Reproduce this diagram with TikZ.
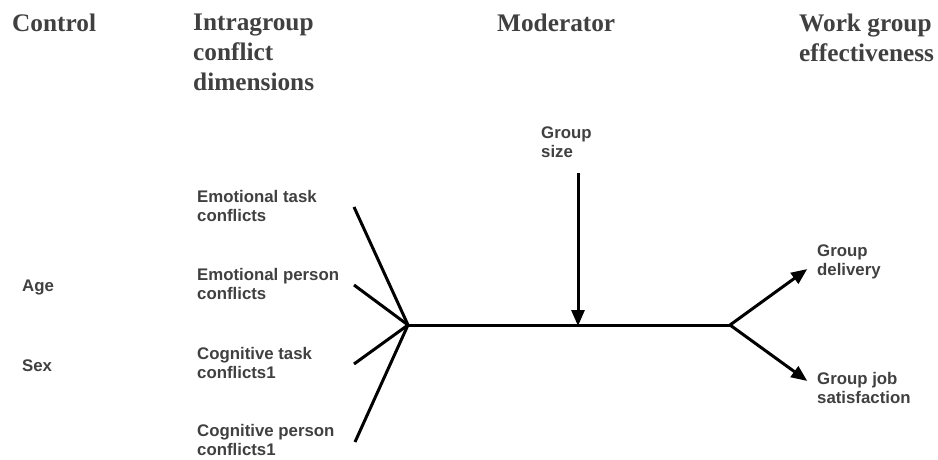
\documentclass[tikz,border=0pt]{standalone}
\usepackage{fontspec}
\setmainfont{Liberation Serif}
\setsansfont{Liberation Sans}
\usetikzlibrary{positioning, arrows.meta}
\definecolor{ink}{HTML}{404040}

\begin{document}
\begin{tikzpicture}[x=1pt, y=-1pt,
    every node/.style={inner sep=0pt, text=ink},
    head/.style={anchor=north west, align=left,
      font=\bfseries\fontsize{25.3}{30}\selectfont},
    lbl/.style={anchor=west, align=left,
      font=\sffamily\bfseries\fontsize{16.8}{19.5}\selectfont},
    link/.style={line width=3pt},
    arr/.style={-{Triangle[length=16pt, width=13pt]}, line width=3pt}]
  \useasboundingbox (0,0) rectangle (938,460);

  % column heads
  \node[head] (hctl) at (12,14) {Control};
  \node[head] (hdim) at (193,14) {Intragroup\\conflict\\dimensions};
  \node[head] (hmod) at (497,14) {Moderator};
  \node[head] (heff) at (799,14) {Work group\\effectiveness};

  % controls
  \node[lbl] (age) at (22,287) {Age};
  \node[lbl] (sex) at (22,366) {Sex};

  % conflict dimensions
  \node[lbl] (et) at (197,206) {Emotional task\\conflicts};
  \node[lbl, below=78pt of et.west, anchor=west] (ep) {Emotional person\\conflicts};
  \node[lbl, below=79pt of ep.west, anchor=west] (ct) {Cognitive task\\conflicts1};
  \node[lbl, below=77pt of ct.west, anchor=west] (cp) {Cognitive person\\conflicts1};

  % moderator and outcomes
  \node[lbl] (gs) at (541,142) {Group\\size};
  \node[lbl] (del) at (817,262) {Group\\delivery};
  \node[lbl] (sat) at (817,388) {Group job\\satisfaction};

  \coordinate (hub) at (408,325);
  \coordinate (fork) at (730,325);
  \coordinate (gsTop) at (578,173);
  \coordinate (gsHit) at (578,326);
  \coordinate (etS) at (354,207);
  \coordinate (epS) at (354,285);
  \coordinate (ctS) at (354,364);
  \coordinate (cpS) at (355,442);

  \draw[link] (etS) -- (hub);
  \draw[link] (epS) -- (hub);
  \draw[link] (ctS) -- (hub);
  \draw[link] (cpS) -- (hub);
  \draw[link] (hub) -- (fork);
  \draw[arr] (gsTop) -- (gsHit);
  \draw[arr, shorten >=12pt] (fork) -- (del.west);
  \draw[arr, shorten >=12pt] (fork) -- (sat.west);
\end{tikzpicture}
\end{document}
